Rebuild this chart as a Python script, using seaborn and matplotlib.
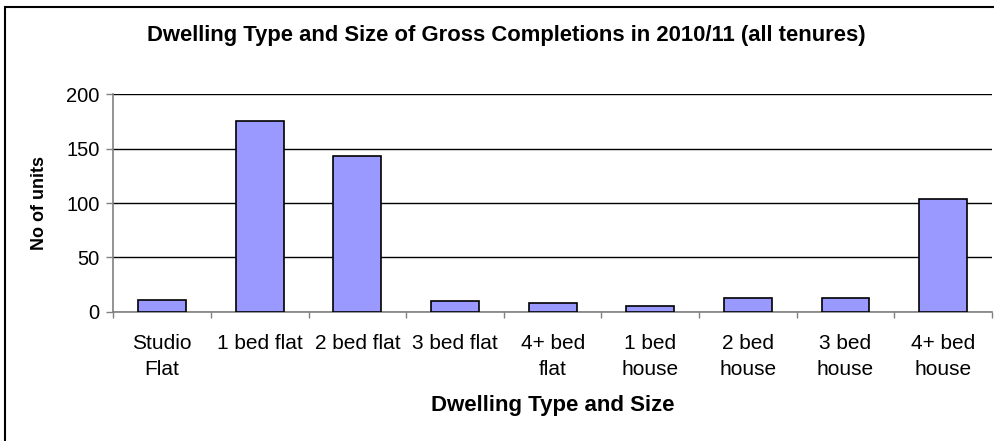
import matplotlib
matplotlib.use("Agg")
import matplotlib.pyplot as plt
import seaborn as sns
import pandas as pd
from matplotlib.patches import Rectangle

# Data
categories = ["Studio\nFlat", "1 bed flat", "2 bed flat", "3 bed flat", "4+ bed\nflat",
              "1 bed\nhouse", "2 bed\nhouse", "3 bed\nhouse", "4+ bed\nhouse"]
units = [11, 175, 143, 10, 8, 5, 13, 13, 104]
y_ticks = [0, 50, 100, 150, 200]

df = pd.DataFrame({"type": categories, "units": units})

sns.set_style("white")
plt.rcParams["font.family"] = ["Liberation Sans", "DejaVu Sans"]
plt.rcParams["text.color"] = "black"
plt.rcParams["xtick.labelcolor"] = "black"
plt.rcParams["ytick.labelcolor"] = "black"

W, H = 995, 441
fig = plt.figure(figsize=(W / 100, H / 100), dpi=100)
ax = fig.add_axes([113.3 / W, 1 - 311.7 / H, (992 - 113.3) / W, (311.7 - 94.3) / H])

sns.barplot(data=df, x="type", y="units", color="#9999FF", edgecolor="black",
            linewidth=1.2, width=0.49, saturation=1, ax=ax, zorder=3)

ax.set_ylim(0, 200)
ax.set_xlim(-0.5, len(categories) - 0.5)
ax.set_yticks(y_ticks)
ax.yaxis.grid(True, color="black", linewidth=1)
ax.set_axisbelow(True)

for s in ["top", "right"]:
    ax.spines[s].set_visible(False)
for s in ["left", "bottom"]:
    ax.spines[s].set_color("#808080")
    ax.spines[s].set_linewidth(1.2)

ax.tick_params(axis="y", direction="out", length=5, width=1, color="#808080",
               labelsize=14.5, pad=5, left=True, labelcolor="black")
ax.tick_params(axis="x", which="major", length=0, labelsize=15, pad=16,
               labelcolor="black")
ax.set_xticks([i - 0.5 for i in range(len(categories) + 1)], minor=True)
ax.tick_params(axis="x", which="minor", direction="out", length=4, width=1,
               color="#808080", bottom=True)
for lbl in ax.get_xticklabels():
    lbl.set_linespacing(1.5)

ax.set_xlabel("")
ax.set_ylabel("")
fig.text(552.5 / W, 1 - 405 / H, "Dwelling Type and Size", ha="center", va="center",
         fontsize=16, fontweight="bold")
fig.text(40 / W, 1 - 203 / H, "No of units", ha="center", va="center",
         rotation=90, fontsize=13, fontweight="bold")
fig.text(506.5 / W, 1 - 36 / H,
         "Dwelling Type and Size of Gross Completions in 2010/11 (all tenures)",
         ha="center", va="center", fontsize=15.8, fontweight="bold")

# outer chart border (right and bottom edges fall outside the image)
fig.patches.append(Rectangle((5 / W, -0.1), 1.2, 1.1 - 7 / H, transform=fig.transFigure,
                             fill=False, edgecolor="black", linewidth=1.5))

fig.savefig("out.png", dpi=100)
